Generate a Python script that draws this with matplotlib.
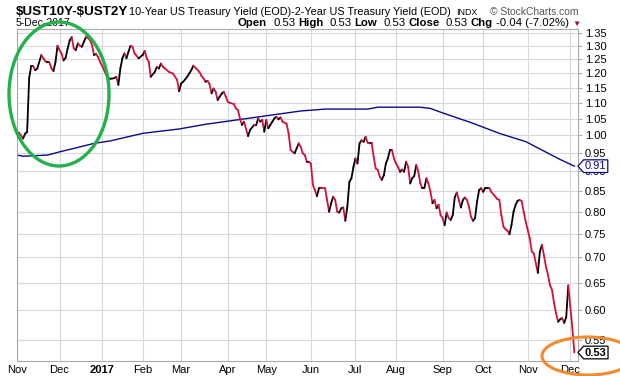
import numpy as np
import pandas as pd
import matplotlib
matplotlib.use("Agg")
import matplotlib.pyplot as plt
from matplotlib.collections import LineCollection
from matplotlib.patches import Ellipse
from matplotlib.path import Path
from matplotlib.ticker import FixedLocator, NullLocator, FormatStrFormatter

plt.rcParams['font.family'] = ['Liberation Sans', 'DejaVu Sans']

# ==== DATA ====
market_holidays = ['2016-11-24', '2016-12-26', '2017-01-02', '2017-01-16', '2017-02-20',
                   '2017-04-14', '2017-05-29', '2017-07-04', '2017-09-04', '2017-11-23']

# trading session number (0 = 1-Nov-2016) and 10Y-2Y spread
spread_day = [0, 1, 3, 4, 5, 6, 7, 8, 9, 10, 12, 13, 14, 15, 16, 17, 18, 19, 20, 21,
              22, 23, 24, 25, 26, 27, 28, 29, 30, 31, 32, 33, 34, 35, 36, 37, 38, 39, 40, 41,
              42, 43, 44, 45, 46, 48, 49, 50, 51, 52, 53, 54, 55, 56, 57, 58, 59, 60, 62, 63,
              64, 65, 66, 68, 69, 70, 71, 72, 73, 75, 77, 79, 80, 81, 82, 84, 86, 87, 88, 90,
              91, 92, 93, 94, 95, 96, 97, 98, 99, 100, 101, 102, 103, 104, 105, 107, 108, 109, 110, 111,
              112, 113, 114, 115, 117, 118, 119, 120, 121, 122, 123, 124, 125, 126, 127, 128, 129, 130, 131, 133,
              134, 135, 136, 137, 138, 139, 140, 141, 142, 143, 144, 145, 146, 147, 148, 149, 150, 152, 153, 154,
              155, 156, 157, 158, 159, 160, 161, 162, 163, 164, 165, 166, 167, 168, 169, 170, 171, 172, 173, 174,
              175, 176, 177, 178, 179, 180, 181, 182, 183, 184, 185, 186, 187, 188, 189, 190, 191, 192, 193, 194,
              195, 196, 197, 198, 199, 200, 201, 202, 203, 204, 205, 206, 207, 208, 209, 210, 211, 212, 213, 214,
              215, 216, 217, 218, 219, 220, 221, 222, 223, 224, 225, 226, 227, 228, 229, 230, 231, 232, 233, 234,
              236, 237, 238, 239, 240, 241, 242, 243, 244, 245, 246, 247, 248, 249, 250, 251, 252, 253, 254, 255,
              256, 257, 258, 259, 260, 261, 262, 263, 264, 265, 266, 267, 268, 269, 270, 271, 272, 273, 274, 275]
spread = [1.00, 1.008, 0.991, 1.005, 1.01, 1.182, 1.225, 1.225, 1.21, 1.216, 1.265, 1.253, 1.242, 1.238, 1.238, 1.216, 1.207, 1.24, 1.30, 1.283,
          1.27, 1.245, 1.255, 1.29, 1.32, 1.333, 1.29, 1.283, 1.309, 1.30, 1.296, 1.315, 1.333, 1.33, 1.321, 1.303, 1.265, 1.269, 1.257, 1.24,
          1.225, 1.21, 1.193, 1.183, 1.18, 1.182, 1.187, 1.159, 1.216, 1.253, 1.271, 1.253, 1.277, 1.30, 1.296, 1.271, 1.262, 1.253, 1.265, 1.28,
          1.253, 1.24, 1.187, 1.204, 1.222, 1.216, 1.234, 1.222, 1.216, 1.204, 1.198, 1.176, 1.138, 1.164, 1.17, 1.187, 1.21, 1.226, 1.219, 1.204,
          1.19, 1.182, 1.17, 1.173, 1.162, 1.131, 1.147, 1.136, 1.109, 1.12, 1.13, 1.136, 1.12, 1.103, 1.10, 1.096, 1.082, 1.077, 1.051, 1.031,
          1.041, 1.02, 0.998, 1.016, 1.031, 1.03, 1.051, 1.041, 1.046, 1.011, 1.046, 1.021, 1.031, 1.041, 1.051, 1.056, 1.048, 1.054, 1.041, 1.035,
          1.006, 0.958, 0.953, 0.949, 0.963, 0.977, 0.967, 0.949, 0.944, 0.926, 0.926, 0.921, 0.865, 0.852, 0.837, 0.857, 0.858, 0.857, 0.828, 0.80,
          0.82, 0.836, 0.828, 0.80, 0.798, 0.808, 0.81, 0.779, 0.812, 0.873, 0.882, 0.912, 0.935, 0.921, 0.977, 0.986, 0.981, 0.996, 0.979, 0.977,
          0.977, 0.939, 0.908, 0.904, 0.886, 0.878, 0.89, 0.921, 0.935, 0.958, 0.958, 0.935, 0.921, 0.912, 0.899, 0.905, 0.899, 0.926, 0.912, 0.869,
          0.882, 0.888, 0.917, 0.90, 0.869, 0.857, 0.857, 0.882, 0.869, 0.848, 0.82, 0.828, 0.808, 0.816, 0.792, 0.785, 0.769, 0.798, 0.785, 0.781,
          0.792, 0.835, 0.846, 0.828, 0.81, 0.828, 0.834, 0.828, 0.812, 0.788, 0.779, 0.785, 0.824, 0.852, 0.857, 0.848, 0.857, 0.857, 0.858, 0.848,
          0.836, 0.83, 0.828, 0.792, 0.766, 0.76, 0.757, 0.749, 0.77, 0.80, 0.816, 0.826, 0.828, 0.825, 0.80, 0.777, 0.758, 0.74, 0.712, 0.708,
          0.688, 0.669, 0.712, 0.726, 0.704, 0.681, 0.665, 0.645, 0.636, 0.612, 0.594, 0.58, 0.584, 0.586, 0.578, 0.588, 0.645, 0.606, 0.57, 0.53]

# 200-day moving average
ma_day = [0, 3, 15, 21, 29, 38, 46, 62, 80, 93, 115, 140, 152, 173, 178, 199, 204, 210, 225, 238, 251, 268, 275]
ma_200 = [0.944, 0.941, 0.944, 0.953, 0.964, 0.977, 0.984, 1.006, 1.019, 1.033, 1.052, 1.074, 1.080, 1.080, 1.086,
          1.086, 1.082, 1.068, 1.036, 1.006, 0.982, 0.932, 0.914]

y_ticks = [0.55, 0.60, 0.65, 0.70, 0.75, 0.80, 0.85, 0.90, 0.95, 1.00, 1.05, 1.10, 1.15, 1.20, 1.25, 1.30, 1.35]

UP_COLOR = 'black'
DOWN_COLOR = '#d4103c'
MA_COLOR = '#0a0a8c'
GRID_COLOR = '#d9d9d9'
W, H = 620, 376


def px(x, y):
    return x / W, 1 - y / H


def tag_box(x0, y0, width, height, mutation_size):
    pad = mutation_size * 0.12
    x0 -= pad
    y0 -= pad
    width += 2 * pad
    height += 2 * pad
    tip = height * 0.45
    verts = [(x0, y0), (x0 + width, y0), (x0 + width, y0 + height), (x0, y0 + height),
             (x0 - tip, y0 + height / 2), (x0, y0)]
    return Path(verts, closed=True)


def put_row(fig, x_right, y, pieces, gap=3):
    # draw text pieces right to left so the row ends at x_right
    renderer = fig.canvas.get_renderer()
    x = x_right
    for text, kw, extra in reversed(pieces):
        t = fig.text(*px(x, y), text, ha='right', va='baseline', **kw)
        w = t.get_window_extent(renderer).width
        x -= w + gap + extra


# ==== FIGURE ====
fig = plt.figure(figsize=(W / 100, H / 100), dpi=100)
ax = fig.add_axes([17 / W, 15 / H, 561 / W, 332 / H])
ax.set_yscale('log')

sessions = pd.bdate_range('2016-11-01', '2017-12-05', freq='C', holidays=market_holidays)
months = pd.Series(np.arange(len(sessions)), index=sessions)
first_idx = months.groupby([sessions.year, sessions.month]).first()
month_pos = first_idx.values
month_lab = ['2017' if m == 1 else pd.Timestamp(2000, m, 1).strftime('%b') for (_, m) in first_idx.index]

# spread line, black on up days and red on down days
x = np.array(spread_day, dtype=float)
y = np.array(spread)
pts = np.column_stack([x, y]).reshape(-1, 1, 2)
segs = np.concatenate([pts[:-1], pts[1:]], axis=1)
cols = [UP_COLOR if d >= 0 else DOWN_COLOR for d in np.diff(y)]
lc = LineCollection(segs, colors=cols, linewidths=1.3, capstyle='round', joinstyle='round', zorder=3)
ax.add_collection(lc)

ax.plot(ma_day, ma_200, color=MA_COLOR, lw=1.0, zorder=2)

ax.set_xlim(0, 276.8)
ax.set_ylim(0.517, 1.365)

ax.yaxis.set_major_locator(FixedLocator(y_ticks))
ax.yaxis.set_minor_locator(NullLocator())
ax.yaxis.set_major_formatter(FormatStrFormatter('%.2f'))
ax.yaxis.tick_right()
ax.tick_params(axis='y', which='both', length=3, width=0.6, color='#999999', labelsize=8, pad=2)
ax.set_xticks(month_pos)
ax.set_xticklabels(month_lab)
ax.tick_params(axis='x', length=0, labelsize=8, pad=3)
for lab in ax.get_xticklabels():
    if lab.get_text() == '2017':
        lab.set_fontweight('bold')

ax.grid(True, color=GRID_COLOR, lw=0.8)
ax.set_axisbelow(True)
for side in ['left', 'right', 'top', 'bottom']:
    ax.spines[side].set_color('#aaaaaa')
    ax.spines[side].set_linewidth(0.8)

# last value tags on the right axis
ax.annotate(f'{ma_200[-1]:.2f}', xy=(1, ma_200[-1]), xycoords=('axes fraction', 'data'),
            xytext=(5, 0), textcoords='offset points', ha='left', va='center', fontsize=8,
            color=MA_COLOR, zorder=6,
            bbox=dict(boxstyle=tag_box, fc='white', ec=MA_COLOR, lw=0.9), annotation_clip=False)
ax.annotate(f'{spread[-1]:.2f}', xy=(1, spread[-1]), xycoords=('axes fraction', 'data'),
            xytext=(5, 0), textcoords='offset points', ha='left', va='center', fontsize=8,
            fontweight='bold', color='black', zorder=6,
            bbox=dict(boxstyle=tag_box, fc='white', ec='black', lw=0.9), annotation_clip=False)

# hand drawn highlight circles
fig.patches.append(Ellipse(px(59, 94), 100 / W, 144 / H, transform=fig.transFigure,
                           fill=False, ec='#22b14c', lw=2.4, zorder=10))
fig.patches.append(Ellipse(px(588, 356), 92 / W, 38 / H, transform=fig.transFigure,
                           fill=False, ec='#f28a30', lw=2.2, zorder=10))

# header text
renderer = fig.canvas.get_renderer()
fig.text(*px(16, 15), r'\$UST10Y-\$UST2Y', fontsize=9.6, fontweight='bold', va='baseline')
desc = fig.text(*px(129, 15), '10-Year US Treasury Yield (EOD)-2-Year US Treasury Yield (EOD)',
                fontsize=7.8, va='baseline')
desc_end = desc.get_window_extent(renderer).x1
fig.text(desc_end / W + 5 / W, 1 - 15 / H, 'INDX', fontsize=6.4, va='baseline')
fig.text(*px(579, 15), '\u00a9 StockCharts.com', fontsize=7.4, va='baseline', ha='right', color='#555555')
fig.text(*px(16, 26), '5-Dec-2017', fontsize=7.5, va='baseline')

bold = dict(fontsize=8.2, fontweight='bold')
norm = dict(fontsize=8.2)
put_row(fig, 569, 26, [
    ('Open', bold, 0), ('0.53', norm, 3),
    ('High', bold, 0), ('0.53', norm, 3),
    ('Low', bold, 0), ('0.53', norm, 3),
    ('Close', bold, 0), ('0.53', norm, 3),
    ('Chg', bold, 0), ('-0.04 (-7.02%)', norm, 0),
])
fig.text(*px(576, 24), '\u25bc', fontsize=6, color='#a0102a', ha='center', va='center')

fig.savefig('out.png', dpi=100)
